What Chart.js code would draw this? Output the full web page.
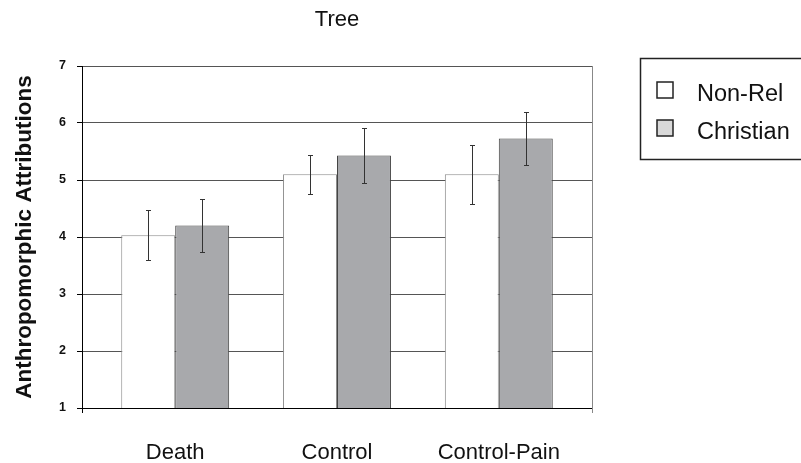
<!DOCTYPE html>
<html>
<head>
<meta charset="utf-8">
<script src="https://cdn.jsdelivr.net/npm/chart.js@4"></script>
<style>
html,body{margin:0;padding:0;background:#fff;}
#wrap{width:801px;height:463px;position:relative;}
</style>
</head>
<body>
<div id="wrap"><canvas id="c" width="801" height="463"></canvas></div>
<script>
const chartTitle = "Tree";
const yAxisTitle = "Anthropomorphic Attributions";
const categories = ["Death", "Control", "Control-Pain"];
const seriesNames = ["Non-Rel", "Christian"];
const nonRelValues = [4.03, 5.10, 5.10];
const nonRelErrors = [0.44, 0.34, 0.52];
const christianValues = [4.20, 5.43, 5.73];
const christianErrors = [0.47, 0.49, 0.46];
const yTicks = [1, 2, 3, 4, 5, 6, 7];

const FONT = "'Liberation Sans', Arial, sans-serif";
const toPoints = (vals) => vals.map((v, i) => ({ x: i, y: v }));

const errorBarPlugin = {
  id: 'errorBars',
  afterDatasetsDraw(chart) {
    const ctx = chart.ctx;
    const y = chart.scales.y;
    ctx.save();
    ctx.strokeStyle = '#333';
    ctx.lineWidth = 1;
    chart.data.datasets.forEach((ds, di) => {
      const meta = chart.getDatasetMeta(di);
      meta.data.forEach((bar, i) => {
        const v = ds.data[i].y, e = ds.errors[i];
        const x = Math.round(bar.x) + 0.5;
        const yt = Math.round(y.getPixelForValue(v + e)) + 0.5;
        const yb = Math.round(y.getPixelForValue(v - e)) + 0.5;
        ctx.beginPath();
        ctx.moveTo(x, yt); ctx.lineTo(x, yb);
        ctx.moveTo(x - 2.5, yt); ctx.lineTo(x + 2.5, yt);
        ctx.moveTo(x - 2.5, yb); ctx.lineTo(x + 2.5, yb);
        ctx.stroke();
      });
    });
    ctx.restore();
  }
};

const framePlugin = {
  id: 'frame',
  afterDatasetsDraw(chart) {
    const ctx = chart.ctx;
    const a = chart.chartArea;
    ctx.save();
    ctx.lineWidth = 1;
    ctx.strokeStyle = '#888';
    ctx.beginPath();
    ctx.moveTo(Math.round(a.right) + 0.5, a.top);
    ctx.lineTo(Math.round(a.right) + 0.5, a.bottom + 5);
    ctx.stroke();
    ctx.strokeStyle = '#000';
    ctx.beginPath();
    ctx.moveTo(Math.round(a.left) + 0.5, a.bottom);
    ctx.lineTo(Math.round(a.left) + 0.5, a.bottom + 5);
    ctx.stroke();
    ctx.restore();
  }
};

const legendPlugin = {
  id: 'boxLegend',
  afterDraw(chart) {
    const ctx = chart.ctx;
    ctx.save();
    ctx.strokeStyle = '#222';
    ctx.lineWidth = 1.5;
    ctx.strokeRect(640.5, 58.5, 170, 101);
    const swatchFill = ['#ffffff', '#d9d9d9'];
    const rowsY = [82, 120];
    ctx.font = "23.5px " + FONT;
    ctx.textBaseline = 'alphabetic';
    chart.data.datasets.forEach((ds, i) => {
      ctx.fillStyle = swatchFill[i];
      ctx.fillRect(657, rowsY[i], 16, 16);
      ctx.strokeStyle = '#222';
      ctx.lineWidth = 1.5;
      ctx.strokeRect(657, rowsY[i], 16, 16);
      ctx.fillStyle = '#111';
      ctx.fillText(ds.label, 697, rowsY[i] + 19);
    });
    ctx.restore();
  }
};

new Chart(document.getElementById('c'), {
  type: 'bar',
  data: {
    datasets: [
      { label: seriesNames[0], data: toPoints(nonRelValues), errors: nonRelErrors,
        backgroundColor: '#ffffff', borderColor: '#8c8c8c', borderWidth: 1 },
      { label: seriesNames[1], data: toPoints(christianValues), errors: christianErrors,
        backgroundColor: '#a8a9ac', borderColor: '#444', borderWidth: 1 }
    ]
  },
  options: {
    responsive: false,
    animation: false,
    layout: { padding: { top: 0, right: 209, left: 0, bottom: 0 } },
    datasets: { bar: { categoryPercentage: 0.667, barPercentage: 1.0 } },
    plugins: {
      legend: { display: false },
      tooltip: { enabled: false },
      title: {
        display: true, text: chartTitle, fullSize: false,
        color: '#111', font: { family: FONT, size: 22, weight: 'normal' },
        padding: { top: 7, bottom: 32.6 }
      }
    },
    scales: {
      x: {
        type: 'linear',
        offset: false,
        min: -0.576, max: 2.576,
        afterBuildTicks(s) { s.ticks = categories.map((c, i) => ({ value: i })); },
        grid: { display: false },
        border: { display: true, color: '#000', width: 1 },
        ticks: {
          color: '#111', font: { family: FONT, size: 22 }, padding: 24,
          autoSkip: false, maxRotation: 0,
          callback: (v) => categories[v]
        },
        afterFit(s) { s.height = 55; }
      },
      y: {
        min: 1, max: 7,
        afterBuildTicks(s) { s.ticks = yTicks.map(v => ({ value: v })); },
        grid: { color: '#555', tickColor: '#000', tickLength: 5, lineWidth: 1 },
        border: { display: true, color: '#000', width: 1 },
        ticks: { color: '#111', font: { family: FONT, size: 12.5, weight: 'bold' }, padding: 11 },
        title: {
          display: true, text: yAxisTitle, color: '#111',
          font: { family: FONT, size: 22.5, weight: 'bold' },
          padding: { top: 11, bottom: 0 }
        },
        afterFit(s) { s.width = 82; }
      }
    }
  },
  plugins: [errorBarPlugin, framePlugin, legendPlugin]
});
</script>
</body>
</html>
